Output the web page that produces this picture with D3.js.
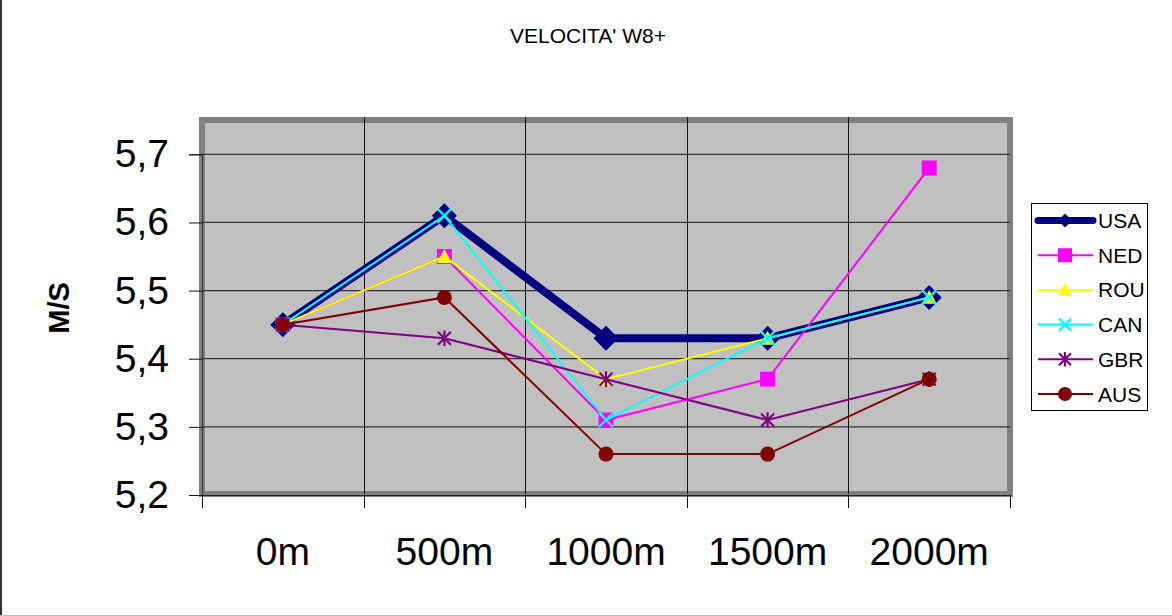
<!DOCTYPE html>
<html>
<head>
<meta charset="utf-8">
<script src="https://cdn.jsdelivr.net/npm/d3@7"></script>
<style>
  html, body { margin: 0; padding: 0; background: #fff; }
  svg { display: block; font-family: "Liberation Sans", Arial, sans-serif; }
</style>
</head>
<body>
<svg id="chart" width="1172" height="616"></svg>
<script>
// ---- data ----
const categories = ["0m", "500m", "1000m", "1500m", "2000m"];
const seriesNames = ["USA", "NED", "ROU", "CAN", "GBR", "AUS"];
const usa = [5.45, 5.61, 5.43, 5.43, 5.49];
const ned = [5.45, 5.55, 5.31, 5.37, 5.68];
const rou = [5.45, 5.55, 5.37, 5.43, 5.49];
const can = [5.45, 5.61, 5.31, 5.43, 5.49];
const gbr = [5.45, 5.43, 5.37, 5.31, 5.37];
const aus = [5.45, 5.49, 5.26, 5.26, 5.37];
const yTicks = [5.2, 5.3, 5.4, 5.5, 5.6, 5.7];
const yTickLabels = ["5,2", "5,3", "5,4", "5,5", "5,6", "5,7"];
const title = "VELOCITA' W8+";
const yTitle = "M/S";

// ---- styles ----
const styles = {
  USA: { color: "#000080", width: 8, marker: "diamond" },
  NED: { color: "#FF00FF", width: 2, marker: "square" },
  ROU: { color: "#FFFF00", width: 2, marker: "triangle" },
  CAN: { color: "#00FFFF", width: 2, marker: "x" },
  GBR: { color: "#800080", width: 2, marker: "star" },
  AUS: { color: "#800000", width: 2, marker: "circle" }
};
const seriesValues = { USA: usa, NED: ned, ROU: rou, CAN: can, GBR: gbr, AUS: aus };

const svg = d3.select("#chart");

// page frame
svg.append("line").attr("x1", 1).attr("x2", 1).attr("y1", 0).attr("y2", 616)
  .attr("stroke", "#333").attr("stroke-width", 2);
svg.append("line").attr("x1", 0).attr("x2", 1172).attr("y1", 615.5).attr("y2", 615.5)
  .attr("stroke", "#bbb").attr("stroke-width", 1);

// ---- scales ----
const x = d3.scaleBand().domain(categories).range([202, 1010]).paddingInner(0).paddingOuter(0);
const y = d3.scaleLinear().domain([5.2, 5.7]).range([495, 154.3]);
const cx = c => x(c) + x.bandwidth() / 2;

const plotTop = 120, plotBottom = 494, plotLeft = 202, plotRight = 1010;

// plot area
svg.append("rect")
  .attr("x", plotLeft).attr("y", plotTop)
  .attr("width", plotRight - plotLeft).attr("height", plotBottom - plotTop)
  .attr("fill", "#C0C0C0").attr("stroke", "#808080").attr("stroke-width", 6);

// gridlines
const grid = svg.append("g");
yTicks.slice(1).forEach(t => {
  grid.append("line")
    .attr("x1", plotLeft).attr("x2", plotRight)
    .attr("y1", y(t)).attr("y2", y(t))
    .attr("stroke", "#333").attr("stroke-width", 1.3);
});
categories.slice(1).forEach(c => {
  grid.append("line")
    .attr("x1", Math.round(x(c)) + 0.5).attr("x2", Math.round(x(c)) + 0.5)
    .attr("y1", plotTop - 3).attr("y2", plotBottom)
    .attr("stroke", "#111").attr("stroke-width", 1);
});

// y axis
const yAxis = d3.axisLeft(y).tickValues(yTicks)
  .tickFormat((d, i) => yTickLabels[i]).tickSize(13).tickPadding(20);
const gy = svg.append("g").attr("transform", `translate(${plotLeft},0)`).call(yAxis);
gy.select(".domain").attr("stroke", "#333").attr("stroke-width", 1);
gy.selectAll(".tick line").attr("stroke", "#111");
gy.selectAll(".tick text").attr("font-size", 39).attr("fill", "#000")
  .attr("font-family", "Liberation Sans, Arial, sans-serif");

// x axis
const xTickScale = d3.scaleLinear().domain([0, categories.length]).range([plotLeft, plotRight]);
const gx = svg.append("g");
gx.append("line").attr("x1", plotLeft).attr("x2", plotRight)
  .attr("y1", 495.5).attr("y2", 495.5).attr("stroke", "#222").attr("stroke-width", 1);
d3.range(categories.length + 1).forEach(i => {
  gx.append("line")
    .attr("x1", Math.round(xTickScale(i)) + 0.5).attr("x2", Math.round(xTickScale(i)) + 0.5)
    .attr("y1", 495).attr("y2", 508)
    .attr("stroke", "#111").attr("stroke-width", 1);
});
gx.selectAll("text.xl").data(categories).enter().append("text")
  .attr("class", "xl")
  .attr("x", d => cx(d)).attr("y", 565)
  .attr("text-anchor", "middle").attr("font-size", 39).attr("fill", "#000")
  .text(d => d);

// titles
svg.append("text").attr("x", 588).attr("y", 43).attr("text-anchor", "middle")
  .attr("font-size", 21).attr("fill", "#000").text(title);
svg.append("text").attr("transform", "translate(69,308) rotate(-90)")
  .attr("text-anchor", "middle").attr("font-size", 29).attr("font-weight", "bold")
  .attr("fill", "#000").text(yTitle);

// ---- marker drawing ----
function markerPath(type, s) {
  const p = d3.path();
  if (type === "diamond") {
    p.moveTo(0, -s); p.lineTo(s, 0); p.lineTo(0, s); p.lineTo(-s, 0); p.closePath();
  } else if (type === "square") {
    p.rect(-s, -s, 2 * s, 2 * s);
  } else if (type === "triangle") {
    p.moveTo(0, -s); p.lineTo(s, s * 0.85); p.lineTo(-s, s * 0.85); p.closePath();
  } else if (type === "circle") {
    p.arc(0, 0, s, 0, 2 * Math.PI);
  } else if (type === "x") {
    p.moveTo(-s, -s); p.lineTo(s, s); p.moveTo(-s, s); p.lineTo(s, -s);
  } else if (type === "star") {
    p.moveTo(-s, -s); p.lineTo(s, s); p.moveTo(-s, s); p.lineTo(s, -s);
    p.moveTo(0, -s * 1.2); p.lineTo(0, s * 1.2);
  }
  return p.toString();
}
function drawMarker(g, type, color, size) {
  const stroked = (type === "x" || type === "star");
  g.append("path").attr("d", markerPath(type, size))
    .attr("fill", stroked ? "none" : color)
    .attr("stroke", stroked ? color : "none")
    .attr("stroke-width", stroked ? 2.2 : 0);
}
const markerSize = { diamond: 12.5, square: 7.5, triangle: 7.5, circle: 7.5, x: 7, star: 6.5 };

// ---- series ----
const line = d3.line().x((d, i) => cx(categories[i])).y(d => y(d));
const seriesG = svg.append("g");
seriesNames.forEach(name => {
  const st = styles[name];
  const vals = seriesValues[name];
  const g = seriesG.append("g");
  g.append("path").attr("d", line(vals)).attr("fill", "none")
    .attr("stroke", st.color).attr("stroke-width", st.width)
    .attr("stroke-linejoin", "miter");
  vals.forEach((v, i) => {
    const mg = g.append("g").attr("transform", `translate(${cx(categories[i])},${y(v)})`);
    drawMarker(mg, st.marker, st.color, markerSize[st.marker]);
  });
});

// ---- legend ----
const lg = svg.append("g");
lg.append("rect").attr("x", 1031.5).attr("y", 203.5).attr("width", 116).attr("height", 207)
  .attr("fill", "#fff").attr("stroke", "#000").attr("stroke-width", 1);
const legendY = d3.scalePoint().domain(seriesNames).range([220.5, 394]);
const legendMarkerSize = { diamond: 7, square: 7, triangle: 7, circle: 7, x: 6, star: 6 };
seriesNames.forEach(name => {
  const st = styles[name];
  const ly = legendY(name);
  lg.append("line").attr("x1", 1038).attr("x2", 1093).attr("y1", ly).attr("y2", ly)
    .attr("stroke", st.color).attr("stroke-width", name === "USA" ? 7 : 2)
    .attr("stroke-linecap", name === "USA" ? "round" : "butt");
  const mg = lg.append("g").attr("transform", `translate(1065,${ly})`);
  drawMarker(mg, st.marker, st.color, legendMarkerSize[st.marker]);
  lg.append("text").attr("x", 1098).attr("y", ly).attr("dy", "0.36em")
    .attr("font-size", 21).attr("fill", "#000").text(name);
});
</script>
</body>
</html>
